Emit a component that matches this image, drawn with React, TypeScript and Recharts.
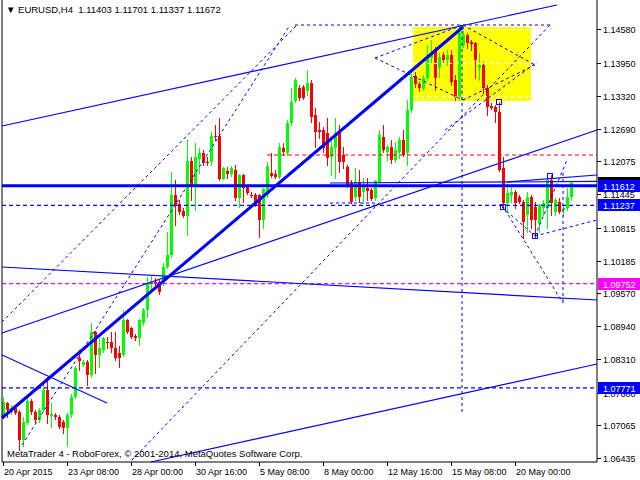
import React from 'react';
import { ComposedChart, Bar, XAxis, YAxis, ReferenceLine, ReferenceArea, ReferenceDot } from 'recharts';

const opens = [1.0724,1.0748,1.0732,1.0738,1.0732,1.0678,1.0711,1.0753,1.0732,1.0716,1.0735,1.0773,1.0724,1.0726,1.0722,1.0713,1.0700,1.0726,1.0760,1.0834,1.0821,1.0827,1.0802,1.0884,1.0840,1.0849,1.0865,1.0865,1.0852,1.0843,1.0840,1.0906,1.0890,1.0876,1.0871,1.0900,1.0925,1.0976,1.0978,1.0978,1.0976,1.1007,1.1030,
1.1144,1.1126,1.1113,1.1104,1.1208,1.1163,1.1212,1.1223,1.1206,1.1206,1.1256,1.1256,1.1174,1.1189,1.1183,1.1191,1.1138,1.1182,1.1159,1.1144,1.1144,1.1144,1.1096,1.1144,1.1185,1.1183,1.1178,1.1233,1.1223,1.1280,1.1322,1.1347,1.1349,1.1341,1.1356,1.1296,1.1267,1.1267,1.1261,1.1216,1.1233,1.1263,1.1220,1.1197,1.1166,1.1140,1.1168,1.1149,1.1157,1.1153,1.1138,1.1168,1.1254,1.1225,1.1235,1.1210,1.1225,1.1248,1.1223,1.1305,1.1370,1.1354,1.1345,1.1366,1.1404,1.1419,1.1385,1.1410,1.1400,1.1410,1.1362,1.1330,1.1429,1.1448,1.1434,1.1432,1.1385,1.1391,1.1347,1.1313,1.1311,1.1301,1.1195,1.1128,1.1144,1.1149,1.1140,1.1130,1.1106,1.1140,1.1121,1.1090,1.1119,1.1119,1.1172,1.1111,1.1130,1.1115,1.1119,1.11403];
const highs = [1.0760,1.0751,1.0745,1.0742,1.0735,1.0722,1.0760,1.0756,1.0735,1.0738,1.0786,1.0798,1.0748,1.0730,1.0726,1.0716,1.0729,1.0765,1.0818,1.0849,1.0830,1.0830,1.0900,1.0886,1.0871,1.0873,1.0874,1.0884,1.0884,1.0856,1.0925,1.0908,1.0893,1.0880,1.0908,1.0928,1.0988,1.0992,1.0986,1.0982,1.1014,1.1073,1.1187,
1.1172,1.1134,1.1119,1.1248,1.1216,1.1242,1.1233,1.1229,1.1216,1.1263,1.1276,1.1290,1.1197,1.1197,1.1199,1.1201,1.1184,1.1184,1.1163,1.1149,1.1147,1.1146,1.1157,1.1206,1.1223,1.1191,1.1242,1.1242,1.1286,1.1347,1.1366,1.1353,1.1353,1.1381,1.1362,1.1309,1.1282,1.1273,1.1290,1.1248,1.1290,1.1276,1.1235,1.1201,1.1172,1.1195,1.1191,1.1176,1.1176,1.1157,1.1172,1.1267,1.1276,1.1239,1.1248,1.1244,1.1254,1.1267,1.1324,1.1381,1.1377,1.1358,1.1372,1.1429,1.1438,1.1425,1.1413,1.1415,1.1419,1.1419,1.1372,1.1463,1.1467,1.1451,1.1438,1.1434,1.1413,1.1396,1.1353,1.1318,1.1314,1.1320,1.1216,1.1159,1.1159,1.1153,1.1144,1.1134,1.1149,1.1144,1.1130,1.1127,1.1134,1.1176,1.1182,1.1138,1.1138,1.1125,1.1157,1.11701];
const lows = [1.0720,1.0722,1.0727,1.0727,1.0659,1.0666,1.0709,1.0728,1.0712,1.0713,1.0733,1.0711,1.0703,1.0718,1.0700,1.0691,1.0666,1.0722,1.0757,1.0811,1.0818,1.0783,1.0798,1.0805,1.0817,1.0846,1.0852,1.0846,1.0830,1.0817,1.0838,1.0882,1.0872,1.0868,1.0859,1.0897,1.0912,1.0963,1.0969,1.0955,1.0973,1.1005,1.1026,
1.1087,1.1107,1.1102,1.1068,1.1134,1.1115,1.1185,1.1201,1.1201,1.1201,1.1248,1.1172,1.1174,1.1176,1.1180,1.1134,1.1121,1.1130,1.1145,1.1140,1.1123,1.1064,1.1081,1.1140,1.1178,1.1176,1.1176,1.1220,1.1220,1.1277,1.1320,1.1324,1.1326,1.1334,1.1282,1.1235,1.1252,1.1225,1.1201,1.1182,1.1176,1.1187,1.1195,1.1159,1.1128,1.1134,1.1130,1.1128,1.1134,1.1134,1.1134,1.1166,1.1225,1.1210,1.1204,1.1206,1.1214,1.1218,1.1201,1.1301,1.1349,1.1341,1.1343,1.1362,1.1396,1.1343,1.1368,1.1396,1.1391,1.1353,1.1324,1.1324,1.1425,1.1423,1.1419,1.1366,1.1362,1.1337,1.1296,1.1307,1.1282,1.1189,1.1119,1.1115,1.1130,1.1119,1.1128,1.1062,1.1073,1.1081,1.1064,1.1073,1.1106,1.1081,1.1106,1.1106,1.1109,1.1106,1.1115,1.11337];
const closes = [1.0750,1.0735,1.0738,1.0730,1.0678,1.0713,1.0753,1.0732,1.0716,1.0735,1.0773,1.0726,1.0728,1.0722,1.0703,1.0700,1.0726,1.0760,1.0814,1.0828,1.0827,1.0802,1.0884,1.0840,1.0852,1.0871,1.0864,1.0852,1.0833,1.0833,1.0906,1.0884,1.0874,1.0871,1.0906,1.0925,1.0976,1.0980,1.0974,1.0959,1.1007,1.1030,1.1144,
1.1123,1.1111,1.1104,1.1208,1.1159,1.1216,1.1223,1.1204,1.1205,1.1256,1.1254,1.1174,1.1195,1.1183,1.1195,1.1138,1.1182,1.1157,1.1147,1.1143,1.1125,1.1096,1.1155,1.1199,1.1180,1.1178,1.1235,1.1225,1.1280,1.1320,1.1362,1.1328,1.1328,1.1356,1.1292,1.1263,1.1263,1.1233,1.1214,1.1235,1.1261,1.1206,1.1206,1.1163,1.1130,1.1168,1.1140,1.1161,1.1151,1.1136,1.1170,1.1258,1.1229,1.1235,1.1210,1.1229,1.1248,1.1220,1.1305,1.1368,1.1354,1.1347,1.1366,1.1410,1.1413,1.1366,1.1406,1.1400,1.1410,1.1358,1.1330,1.1451,1.1448,1.1432,1.1430,1.1400,1.1391,1.1347,1.1311,1.1309,1.1301,1.1191,1.1128,1.1147,1.1149,1.1128,1.1130,1.1092,1.1140,1.1096,1.1096,1.1125,1.1128,1.1172,1.1128,1.1134,1.1111,1.1119,1.1140,1.11672];

const xTickIdx = [0, 16, 32, 48, 64, 80, 96, 112, 128];
const xTickLabels = ['20 Apr 2015', '23 Apr 08:00', '28 Apr 00:00', '30 Apr 16:00', '5 May 08:00', '8 May 00:00', '12 May 16:00', '15 May 08:00', '20 May 00:00'];
const priceTicks = [1.1458, 1.1395, 1.1332, 1.1269, 1.12075, 1.11445, 1.10815, 1.10185, 1.0957, 1.0894, 1.0831, 1.0768, 1.07065, 1.06435];
const markedPrices = [1.11672, 1.11612, 1.11237, 1.09752, 1.07771];
const markedColors = ['#000000', '#0000FF', '#0000FF', '#FF00FF', '#0000FF'];

// trend lines: [barIndex1, price1, barIndex2, price2]
const solidLines = [
  [-0.25, 1.12746, 138.5, 1.15045],
  [-0.25, 1.08813, 148.5, 1.1267],
  [-0.25, 1.10067, 148.5, 1.0944],
  [-0.25, 1.08395, 26, 1.07483],
  [37, 1.06362, 148.5, 1.08224],
  [81.75, 1.11663, 148.5, 1.11692],
  [126, 1.11682, 148.5, 1.11815],
];
const thickLines = [[-0.25, 1.07198, 115, 1.14627]];
const thickLevels = [1.11612];
const dashedLevels = [1.11237, 1.07771];
const magentaLevels = [1.09752];
const redDashed = [[66, 1.12195, 148.5, 1.12195]];
const dashedSegments = [
  [73, 1.14665, 136.75, 1.14665],
  [114.75, 1.14665, 114.75, 1.07255],
  [140, 1.11853, 140, 1.09383],
  [81.75, 1.11283, 93, 1.11283],
  [-0.25, 1.09022, 73.5, 1.14665],
  [4.75, 1.06685, 71.75, 1.14665],
  [32.25, 1.0640, 137.25, 1.14703],
  [93, 1.14038, 115, 1.14665],
  [93, 1.14038, 115, 1.1324],
  [115, 1.14665, 133, 1.13905],
  [115, 1.1324, 133, 1.13905],
  [110.5, 1.1267, 133.5, 1.13962],
  [124.75, 1.11245, 140, 1.09383],
  [124.75, 1.11207, 133, 1.10656],
  [133, 1.10656, 141, 1.121],
  [133, 1.10656, 148.5, 1.1096],
];
const yellowBox = [102.5, 1.13221, 132, 1.14627];
const whiteLevels = [1.1457, 1.13937, 1.13303];
const squareMarks = [[124, 1.132], [125, 1.1121], [133, 1.1066], [136.75, 1.118]];

const candles = opens.map((o, i) => ({ i, open: o, high: highs[i], low: lows[i], close: closes[i] }));

const FONT = '"Liberation Sans", Arial, sans-serif';

const Candle = (props: any) => {
  const { x, y, width, height, payload } = props;
  const cx = Math.round(x + width / 2);
  const { open, close, high, low } = payload;
  const range = high - low;
  const py = (p: number) => (range > 0 ? y + ((high - p) / range) * height : y);
  const top = Math.round(py(Math.max(open, close)));
  const bot = Math.round(py(Math.min(open, close)));
  const color = close >= open ? '#00FF00' : '#FF0000';
  return (
    <g>
      <line x1={cx + 0.5} x2={cx + 0.5} y1={Math.round(y)} y2={Math.round(y + height) + 1} stroke={color} strokeWidth={1} />
      <rect x={cx - 1} y={top} width={3} height={Math.max(1, bot - top)} fill={color} />
    </g>
  );
};

const PriceTick = (props: any) => {
  const { x, y, payload } = props;
  const v = payload.value;
  const k = markedPrices.indexOf(v);
  if (k === 0) {
    return <rect x={x + 1} y={Math.round(y) - 6} width={44} height={12} fill={markedColors[k]} />;
  }
  if (k > 0) {
    return (
      <g>
        <rect x={x + 1} y={Math.round(y) - 6} width={44} height={12} fill={markedColors[k]} />
        <text x={x + 6} y={Math.round(y) + 3.5} fill="#FFFFFF" fontSize={9} fontFamily={FONT}>{v.toFixed(5)}</text>
      </g>
    );
  }
  return (
    <g>
      <line x1={x} x2={x + 4} y1={Math.round(y) + 0.5} y2={Math.round(y) + 0.5} stroke="#000" />
      <text x={x + 6} y={Math.round(y) + 3.5} fill="#000" fontSize={9} fontFamily={FONT}>{v.toFixed(5)}</text>
    </g>
  );
};

const DateTick = (props: any) => {
  const { x, y, payload } = props;
  const k = xTickIdx.indexOf(payload.value);
  const px = Math.round(x);
  return (
    <g>
      <line x1={px + 0.5} x2={px + 0.5} y1={y} y2={y + 4} stroke="#000" />
      <text x={px + 1} y={y + 13} fill="#000" fontSize={9} fontFamily={FONT}>{xTickLabels[k]}</text>
    </g>
  );
};

const Square = (props: any) => (
  <rect x={Math.round(props.cx) - 2.5} y={Math.round(props.cy) - 2.5} width={5} height={5} fill="none" stroke="#0000FF" strokeWidth={1} />
);

export default function App() {
  const seg = (s: number[]) => [{ x: s[0], y: s[1] }, { x: s[2], y: s[3] }];
  const full = (p: number) => [-0.25, p, 148.5, p];
  return (
    <div style={{ position: 'absolute', left: 0, top: 0, width: 640, height: 480, background: '#fff', overflow: 'hidden' }}>
      <ComposedChart width={640} height={480} data={candles} margin={{ top: 0, right: 0, bottom: 0, left: 2 }}>
        <XAxis dataKey="i" type="number" domain={[-0.25, 148.5]} allowDataOverflow ticks={xTickIdx} interval={0}
          height={18} tickSize={0} tickMargin={0} tickLine={false} axisLine={{ stroke: '#000' }} tick={<DateTick />} />
        <YAxis orientation="right" type="number" domain={[1.06362, 1.1514]} allowDataOverflow width={43}
          ticks={[...priceTicks, ...markedPrices]} interval={0} tickSize={0} tickMargin={0} tickLine={false}
          axisLine={{ stroke: '#000' }} tick={<PriceTick />} />
        <ReferenceArea x1={yellowBox[0]} x2={yellowBox[2]} y1={yellowBox[1]} y2={yellowBox[3]} fill="#FFFF00" fillOpacity={1} stroke="none" ifOverflow="visible" />
        {whiteLevels.map((p, k) => (
          <ReferenceLine key={'w' + k} segment={seg([yellowBox[0], p, yellowBox[2], p])} stroke="#FFFFFF" strokeDasharray="4 3" ifOverflow="visible" />
        ))}
        <ReferenceLine x={-0.25} stroke="#000" ifOverflow="visible" />
        <Bar dataKey={(d: any) => [d.low, d.high]} barSize={3} shape={<Candle />} isAnimationActive={false} />
        {magentaLevels.map((p, k) => (
          <ReferenceLine key={'m' + k} segment={seg(full(p))} stroke="#FF00FF" strokeWidth={1.2} strokeDasharray="4 3" ifOverflow="visible" />
        ))}
        {redDashed.map((s, k) => (
          <ReferenceLine key={'r' + k} segment={seg(s)} stroke="#FF0000" strokeWidth={1.2} strokeDasharray="4 3" ifOverflow="visible" />
        ))}
        {dashedLevels.map((p, k) => (
          <ReferenceLine key={'d' + k} segment={seg(full(p))} stroke="#0000FF" strokeWidth={1.2} strokeDasharray="4 3" ifOverflow="visible" />
        ))}
        {dashedSegments.map((s, k) => (
          <ReferenceLine key={'ds' + k} segment={seg(s)} stroke="#0000FF" strokeDasharray="3 3" ifOverflow="visible" />
        ))}
        {solidLines.map((s, k) => (
          <ReferenceLine key={'s' + k} segment={seg(s)} stroke="#0000FF" strokeWidth={1.2} ifOverflow="visible" />
        ))}
        {thickLines.map((s, k) => (
          <ReferenceLine key={'t' + k} segment={seg(s)} stroke="#0000FF" strokeWidth={3} ifOverflow="visible" />
        ))}
        {thickLevels.map((p, k) => (
          <ReferenceLine key={'tl' + k} segment={seg(full(p))} stroke="#0000FF" strokeWidth={3} ifOverflow="visible" />
        ))}
        {squareMarks.map((m, k) => (
          <ReferenceDot key={'q' + k} x={m[0]} y={m[1]} r={3} shape={<Square />} ifOverflow="visible" />
        ))}
      </ComposedChart>
      <div style={{ position: 'absolute', left: 6, top: 4, fontFamily: FONT, fontSize: 9.5, color: '#000', whiteSpace: 'pre' }}>
        {'\u25BC EURUSD,H4  1.11403 1.11701 1.11337 1.11672'}
      </div>
      <div style={{ position: 'absolute', left: 7, top: 448, fontFamily: FONT, fontSize: 9.5, color: '#000', whiteSpace: 'pre' }}>
        {'MetaTrader 4 - RoboForex, \u00A9 2001-2014, MetaQuotes Software Corp.'}
      </div>
    </div>
  );
}
